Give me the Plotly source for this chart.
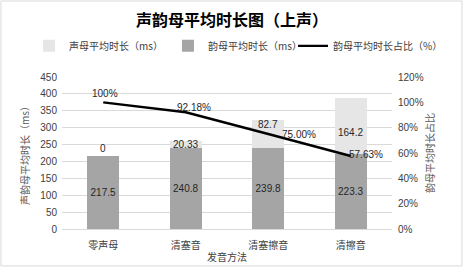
import plotly.graph_objects as go

categories = ["零声母", "清塞音", "清塞擦音", "清擦音"]
initial_ms = [0, 20.33, 82.7, 164.2]
final_ms = [217.5, 240.8, 239.8, 223.3]
final_ratio = [1.0, 0.9218, 0.75, 0.5763]
ratio_labels = ["100%", "92.18%", "75.00%", "57.63%"]

CJK = "Noto Sans CJK SC"
NUM = "Liberation Sans, Noto Sans CJK SC"
TXT = "#262626"

fig = go.Figure()
fig.add_trace(go.Bar(
    x=categories, y=final_ms, name="韵母平均时长（ms）",
    marker=dict(color="#a5a5a5", line=dict(width=0)),
    text=[f"{v:g}" for v in final_ms], textposition="inside",
    insidetextanchor="middle", textangle=0,
    textfont=dict(family=NUM, size=10, color=TXT),
    legend="legend", legendrank=2,
))
fig.add_trace(go.Bar(
    x=categories, y=initial_ms, name="声母平均时长（ms）",
    marker=dict(color="#e7e6e6", line=dict(width=0)),
    textposition="none",
    legend="legend", legendrank=1,
))
fig.add_trace(go.Scatter(
    x=categories, y=final_ratio, name="韵母平均时长占比（%）", yaxis="y2",
    mode="lines", line=dict(color="#000000", width=2.4),
    legend="legend2",
))

# labels of the upper (声母) segments
top_shift = [7, 0, 10, -7]
for c, base, v, dy in zip(categories, final_ms, initial_ms, top_shift):
    fig.add_annotation(x=c, y=base + v / 2, text=f"{v:g}", showarrow=False,
                       yshift=dy, font=dict(family=NUM, size=10, color=TXT))

# labels of the ratio line
shifts = [(2, 9), (8, 5), (31, 0), (15, 2)]
for c, r, lab, (dx, dy) in zip(categories, final_ratio, ratio_labels, shifts):
    fig.add_annotation(x=c, y=r, yref="y2", text=lab, showarrow=False,
                       xshift=dx, yshift=dy,
                       font=dict(family=NUM, size=10, color=TXT))

fig.add_shape(type="rect", xref="paper", yref="paper",
              x0=-0.185, x1=1.212, y0=-0.243, y1=1.5,
              line=dict(color="#d9d9d9", width=1), fillcolor="rgba(0,0,0,0)")

legend_font = dict(family=CJK, size=10, color="#404040")
fig.update_layout(
    width=464, height=268,
    margin=dict(l=62, r=72, t=77, b=39, autoexpand=False),
    paper_bgcolor="white", plot_bgcolor="white",
    barmode="stack", bargap=0.61,
    title=dict(text="<b>声韵母平均时长图（上声）</b>", x=0.5, xanchor="center",
               y=0.925, yanchor="middle",
               font=dict(family=CJK, size=16, color="#000000")),
    legend=dict(orientation="h", x=-0.1, xanchor="left", y=1.205, yanchor="middle",
                traceorder="normal", font=legend_font,
                itemwidth=30, bgcolor="rgba(0,0,0,0)"),
    legend2=dict(orientation="h", x=0.7, xanchor="left", y=1.205, yanchor="middle",
                 font=legend_font, itemwidth=30, bgcolor="rgba(0,0,0,0)"),
    xaxis=dict(showgrid=False, showline=True, linecolor="#d9d9d9", ticks="",
               ticklabelstandoff=7, automargin=False,
               tickfont=dict(family=CJK, size=10, color="#404040"),
               title=dict(text="发音方法", font=dict(family=CJK, size=10, color="#404040"), standoff=2)),
    yaxis=dict(range=[0, 450], dtick=50, showgrid=True, gridcolor="#d9d9d9",
               zeroline=False, showline=False, ticks="", ticklabelstandoff=4, automargin=False,
               tickfont=dict(family=NUM, size=10, color="#404040"),
               title=dict(text="声韵母平均时长（ms）", font=dict(family=CJK, size=10, color="#595959"), standoff=8)),
    yaxis2=dict(range=[0, 1.2], dtick=0.2, tickformat=".0%", overlaying="y", side="right",
                showgrid=False, zeroline=False, showline=False, ticks="", ticklabelstandoff=5,
                automargin=False,
                tickfont=dict(family=NUM, size=10, color="#404040"),
                title=dict(text="韵母平均时长占比", font=dict(family=CJK, size=10, color="#595959"), standoff=4)),
    showlegend=True,
)

fig.write_html("out.html", config={"displayModeBar": False},
               post_script="document.body.style.margin='0';")
